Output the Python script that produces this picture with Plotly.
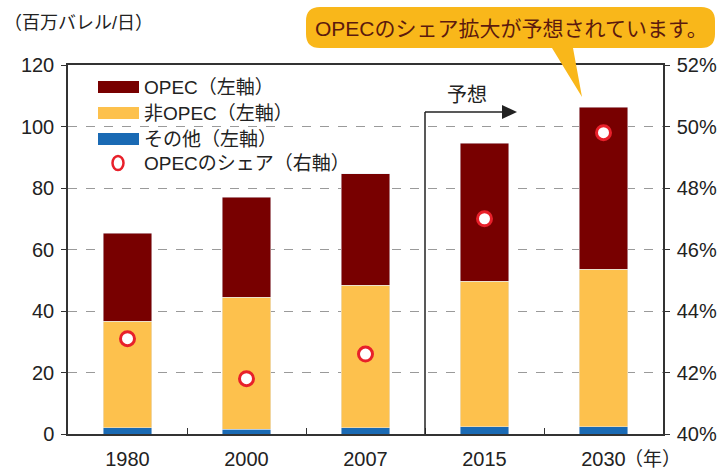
import plotly.graph_objects as go

# ---- data ----
years = ["1980", "2000", "2007", "2015", "2030"]
other = [2.0, 1.6, 2.0, 2.3, 2.3]          # その他（左軸）
non_opec = [34.7, 42.9, 46.4, 47.4, 51.3]  # 非OPEC（左軸）
opec = [28.6, 32.5, 36.2, 44.8, 52.6]      # OPEC（左軸）
opec_share = [43.1, 41.8, 42.6, 47.0, 49.8]  # OPECのシェア（右軸, %）

legend_labels = ["OPEC（左軸）", "非OPEC（左軸）", "その他（左軸）", "OPECのシェア（右軸）"]
left_ticks = [0, 20, 40, 60, 80, 100, 120]
right_ticks = [40, 42, 44, 46, 48, 50, 52]
right_ticktext = [f"{v}%" for v in right_ticks]

C_OPEC = "#780000"
C_NON = "#FDC14D"
C_OTHER = "#1A6AB4"
C_RED = "#E8202A"
TXT = "#222222"
FONT = "Liberation Sans, Arial, Noto Sans CJK JP, sans-serif"

# ---- layout geometry (pixels) ----
WIDTH, HEIGHT = 719, 469
L, R, T, B = 68, 663, 65, 434
PW, PH = R - L, B - T


def px(x):
    return (x - L) / PW


def py(y):
    return (B - y) / PH


fig = go.Figure()
bar_w = 0.41
fig.add_trace(go.Bar(x=years, y=other, marker_color=C_OTHER, width=bar_w,
                     name=legend_labels[2], showlegend=False))
fig.add_trace(go.Bar(x=years, y=non_opec, marker_color=C_NON, width=bar_w,
                     name=legend_labels[1], showlegend=False))
fig.add_trace(go.Bar(x=years, y=opec, marker_color=C_OPEC, width=bar_w,
                     name=legend_labels[0], showlegend=False))
fig.add_trace(go.Scatter(x=years, y=opec_share, yaxis="y2", mode="markers",
                         marker=dict(symbol="circle", size=14, color="white",
                                     line=dict(color=C_RED, width=3)),
                         name=legend_labels[3], showlegend=False))

shapes = []
annotations = []

# ---- manual legend ----
rows = [87, 113, 139, 163]
sw_colors = [C_OPEC, C_NON, C_OTHER]
for i in range(3):
    shapes.append(dict(type="rect", xref="paper", yref="paper",
                       x0=px(98), x1=px(139), y0=py(rows[i] + 6), y1=py(rows[i] - 6),
                       fillcolor=sw_colors[i], line=dict(width=0)))
shapes.append(dict(type="circle", xref="paper", yref="paper",
                   xsizemode="pixel", ysizemode="pixel",
                   xanchor=px(118), yanchor=py(rows[3]),
                   x0=-5.5, x1=5.5, y0=-7, y1=7,
                   fillcolor="white", line=dict(color=C_RED, width=2.5)))
for i, lab in enumerate(legend_labels):
    annotations.append(dict(text=lab, xref="paper", yref="paper",
                            x=px(142), y=py(rows[i]), xanchor="left", yanchor="middle",
                            showarrow=False, font=dict(size=19, color=TXT, family=FONT)))

# ---- forecast separator + arrow ----
sep_px = L + 3 * PW / 5
arrow_y = 112
shapes.append(dict(type="line", xref="x", yref="paper", x0=2.5, x1=2.5,
                   y0=0, y1=py(arrow_y), line=dict(color=TXT, width=1.5)))
shapes.append(dict(type="line", xref="paper", yref="paper",
                   x0=px(sep_px), x1=px(504), y0=py(arrow_y), y1=py(arrow_y),
                   line=dict(color=TXT, width=1.5)))
shapes.append(dict(type="path", xref="paper", yref="paper",
                   path=f"M {px(502)},{py(arrow_y-7)} L {px(517)},{py(arrow_y)} L {px(502)},{py(arrow_y+7)} Z",
                   fillcolor=TXT, line=dict(width=0)))
annotations.append(dict(text="予想", xref="paper", yref="paper",
                        x=px(467), y=py(95), xanchor="center", yanchor="middle",
                        showarrow=False, font=dict(size=20, color=TXT, family=FONT)))

# ---- callout bubble ----
x0c, x1c, y0c, y1c, rr = 306, 715, 7, 48, 14
pts = [
    f"M {px(x0c+rr)},{py(y0c)}",
    f"L {px(x1c-rr)},{py(y0c)}",
    f"Q {px(x1c)},{py(y0c)} {px(x1c)},{py(y0c+rr)}",
    f"L {px(x1c)},{py(y1c-rr)}",
    f"Q {px(x1c)},{py(y1c)} {px(x1c-rr)},{py(y1c)}",
    f"L {px(573)},{py(y1c)}",
    f"L {px(582)},{py(97)}",
    f"L {px(552)},{py(y1c)}",
    f"L {px(x0c+rr)},{py(y1c)}",
    f"Q {px(x0c)},{py(y1c)} {px(x0c)},{py(y1c-rr)}",
    f"L {px(x0c)},{py(y0c+rr)}",
    f"Q {px(x0c)},{py(y0c)} {px(x0c+rr)},{py(y0c)}",
    "Z",
]
shapes.append(dict(type="path", xref="paper", yref="paper", path=" ".join(pts),
                   fillcolor="#F9B71A", line=dict(width=0), layer="above"))
annotations.append(dict(text="OPECのシェア拡大が予想されています。", xref="paper", yref="paper",
                        x=px(511), y=py(28), xanchor="center", yanchor="middle",
                        showarrow=False, font=dict(size=21, color="#5C1A0E", family=FONT)))

# ---- axis titles / units ----
annotations.append(dict(text="（百万バレル/日）", xref="paper", yref="paper",
                        x=px(2), y=py(23), xanchor="left", yanchor="middle",
                        showarrow=False, font=dict(size=18, color=TXT, family=FONT)))
annotations.append(dict(text="（年）", xref="paper", yref="paper",
                        x=px(622), y=py(459), xanchor="left", yanchor="middle",
                        showarrow=False, font=dict(size=19, color=TXT, family=FONT)))

axis_font = dict(size=20, color=TXT, family=FONT)
fig.update_layout(
    width=WIDTH, height=HEIGHT,
    margin=dict(l=L, r=WIDTH - R, t=T, b=HEIGHT - B, pad=0, autoexpand=False),
    paper_bgcolor="white", plot_bgcolor="white",
    barmode="stack", bargap=0.59,
    showlegend=False,
    font=dict(family=FONT, color=TXT, size=19),
    xaxis=dict(type="category", showline=True, linecolor="#333333", linewidth=1.5,
               mirror=True, ticks="inside", tickson="boundaries", ticklen=6,
               tickcolor="#333333", showgrid=False, automargin=False,
               ticklabelstandoff=6, tickfont=axis_font),
    yaxis=dict(range=[0, 120], tickvals=left_ticks, showline=True, linecolor="#333333",
               linewidth=1.5, mirror=True, ticks="outside", ticklen=5, tickcolor="#333333",
               showgrid=True, gridcolor="#9a9a9a", griddash="dash", gridwidth=1,
               zeroline=False, automargin=False, ticklabelstandoff=3, tickfont=axis_font),
    yaxis2=dict(range=[40, 52], tickvals=right_ticks, ticktext=right_ticktext,
                overlaying="y", side="right", showgrid=False, zeroline=False,
                ticks="outside", ticklen=5, tickcolor="#333333", showline=True,
                linecolor="#333333", linewidth=1.5, automargin=False,
                ticklabelstandoff=3, tickfont=axis_font),
    shapes=shapes,
    annotations=annotations,
)

fig.write_html(
    "out.html",
    config={"displayModeBar": False},
    post_script="document.body.style.margin='0';document.body.style.overflow='hidden';",
)
